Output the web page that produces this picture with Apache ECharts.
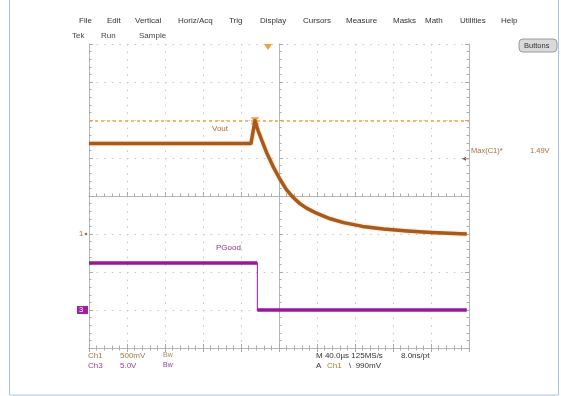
<!DOCTYPE html>
<html><head><meta charset="utf-8">
<script src="https://cdn.jsdelivr.net/npm/echarts@6/dist/echarts.min.js"></script>
<style>html,body{margin:0;padding:0;background:#fff}#c{width:561px;height:396px}</style>
</head><body><div id="c"></div>
<script>
// Time in µs from left edge of screen (10 div x 40 µs)
const voutTime = [0, 170.5, 174.7, 178, 182, 187, 193.7, 201, 208, 215, 222, 229, 240, 254, 268, 288, 310, 335, 360, 397.6];
const voutVolts = [1.19, 1.19, 1.49, 1.36, 1.23, 1.07, 0.89, 0.72, 0.58, 0.48, 0.40, 0.34, 0.27, 0.20, 0.15, 0.10, 0.065, 0.04, 0.02, 0.0];
const pgoodTime = [0, 177.2, 177.2, 397.6];
const pgoodVolts = [6.2, 6.2, 0, 0];
const menuItems = ["File","Edit","Vertical","Horiz/Acq","Trig","Display","Cursors","Measure","Masks","Math","Utilities","Help"];
const menuX = [79,107,135,178,229,260,303,346,393,425,460,501];
const trigTime = 188.4;   // µs
const trigLevel = 0.99;   // V on Ch1
const ch1Scale = 0.5, ch1Offset = 3; // V/div, ground position (div)
const ch3Scale = 5, ch3Offset = 1;

const VOUT_C = '#a85a1c', PG_C = '#9a16a0', GRID_C = '#c4c4c4';
const FONT = 'Liberation Sans';

const voutData = voutTime.map((t,i)=>[t, voutVolts[i]]);
const pgData = pgoodTime.map((t,i)=>[t, pgoodVolts[i]]);
const pgThick = [];
for (let i=0;i<pgData.length;i++){
  if (i>0 && pgData[i][0]===pgData[i-1][0]) pgThick.push('-');
  pgThick.push(pgData[i]);
}
const vMax = Math.max(...voutVolts);

const tickCommon = {show:true, inside:true, length:4, lineStyle:{color:'#aaa'}};
const minorCommon = {show:true, splitNumber:5, length:2.5, lineStyle:{color:'#aaa'}};
function xAx(pos, extra){ return Object.assign({type:'value', min:0, max:400, interval:40, position:pos,
  axisLine:{show:true, lineStyle:{color:'#b8b8b8', width:1}}, axisTick:tickCommon, minorTick:minorCommon,
  axisLabel:{show:false}, splitLine:{show:false}}, extra||{}); }
function yAx(pos, extra){ return Object.assign({type:'value', min:0, max:8, interval:1, position:pos,
  axisLine:{show:true, onZero:false, lineStyle:{color:'#b8b8b8', width:1}}, axisTick:tickCommon, minorTick:minorCommon,
  axisLabel:{show:false}, splitLine:{show:false}}, extra||{}); }

const chart = echarts.init(document.getElementById('c'), null, {renderer:'canvas'});
const option = {
  animation:false,
  backgroundColor:'#ffffff',
  grid:{left:89, top:44, width:380, height:304, containLabel:false},
  xAxis:[
    xAx('bottom', {splitLine:{show:true, lineStyle:{color:GRID_C, type:[1.5,6.1], width:1}}}),
    xAx('top'),
    xAx('bottom', {offset:-152})
  ],
  yAxis:[
    yAx('left', {splitLine:{show:true, lineStyle:{color:GRID_C, type:[1.5,6.1], width:1}}}),
    yAx('right'),
    yAx('left', {offset:-190}),
    {type:'value', min:-ch1Offset*ch1Scale, max:(8-ch1Offset)*ch1Scale, show:false},
    {type:'value', min:-ch3Offset*ch3Scale, max:(8-ch3Offset)*ch3Scale, show:false}
  ],
  series:[
    {type:'line', name:'PGood edge', xAxisIndex:0, yAxisIndex:4, data:pgData, symbol:'none',
     lineStyle:{color:PG_C, width:1}, z:3},
    {type:'line', name:'PGood', xAxisIndex:0, yAxisIndex:4, data:pgThick, symbol:'none',
     lineStyle:{color:PG_C, width:3.5}, z:4},
    {type:'line', name:'Vout', xAxisIndex:0, yAxisIndex:3, data:voutData, symbol:'none',
     smooth:false,
     lineStyle:{color:VOUT_C, width:3.5, join:'round', cap:'butt', shadowColor:'rgba(240,150,60,0.6)', shadowBlur:2}, z:5,
     markLine:{silent:true, symbol:'none', label:{show:false},
       lineStyle:{color:'#f0a24a', type:[3,3], width:1.5},
       data:[{yAxis:vMax}]},
     markPoint:{symbol:'path://M0,0 L10,0 L6,5 L10,10 L0,10 L4,5 Z', symbolSize:[9,7],
       itemStyle:{color:'#f0a040'}, label:{show:false}, data:[{type:'max'}]}
    }
  ]
};
chart.setOption(option);

const tx = chart.convertToPixel({xAxisIndex:0}, trigTime);
const ty = chart.convertToPixel({yAxisIndex:3}, trigLevel);
const g1y = chart.convertToPixel({yAxisIndex:3}, 0);
const g3y = chart.convertToPixel({yAxisIndex:4}, 0);

const txt = (t,x,y,fill,size)=>({type:'text', left:x, top:y, silent:true,
  style:{text:t, fill:fill||'#333', font:(size||8)+'px "'+FONT+'"'}});
const graphic = [];
graphic.push({type:'rect', shape:{x:9.5,y:-1,width:549,height:396}, style:{fill:'none', stroke:'#a9c6e6', lineWidth:1}, silent:true});
menuItems.forEach((m,i)=>graphic.push(txt(m, menuX[i], 17, '#333', 8)));
graphic.push(txt('Tek',72,32,'#444',8), txt('Run',101,32,'#444',8), txt('Sample',139,32,'#444',8));
graphic.push({type:'rect', shape:{x:519,y:39,width:38,height:13,r:4}, style:{fill:'#d9d9d9', stroke:'#9a9a9a', lineWidth:1}, silent:true});
graphic.push(txt('Buttons',524,41.5,'#333',7.5));
graphic.push({type:'polygon', shape:{points:[[tx-4,44],[tx+4,44],[tx,50]]}, style:{fill:'#f0a040'}, silent:true});
graphic.push({type:'polygon', shape:{points:[[462,ty],[466,ty-2],[466,ty+2]]}, style:{fill:'#8a5a2a'}, silent:true});
graphic.push({type:'line', shape:{x1:465,y1:ty,x2:469,y2:ty}, style:{stroke:'#8a5a2a', lineWidth:1}, silent:true});
graphic.push(txt('1',79,g1y-4,'#a07040',7.5));
graphic.push({type:'circle', shape:{cx:86,cy:g1y,r:1.3}, style:{fill:'#a07040'}, silent:true});
graphic.push({type:'rect', shape:{x:77,y:g3y-4,width:11,height:8}, style:{fill:'#a020a8'}, silent:true});
graphic.push(txt('3',79,g3y-4,'#ffffff',7.5));
graphic.push(txt('Vout',212,125,'#b06a2a',8));
graphic.push(txt('PGood',216,244,'#9a30a0',8));
graphic.push(txt('Max(C1)*',471,147,'#a07040',7.5));
graphic.push(txt('1.49V',530,147,'#a07040',7.5));
graphic.push(txt('Ch1',88,352,'#a07840',8), txt('500mV',120,352,'#a07840',8), txt('Bw',163,352,'#b08a50',7));
graphic.push(txt('Ch3',88,362,'#a040a0',8), txt('5.0V',120,362,'#a040a0',8), txt('Bw',163,362,'#a040a0',7));
graphic.push(txt('M 40.0µs 125MS/s',316,352,'#333',8), txt('8.0ns/pt',401,352,'#333',8));
graphic.push(txt('A',316,362,'#333',8), txt('Ch1',327,362,'#b07a30',8), txt('\\  990mV',349,362,'#333',8));
chart.setOption({graphic:graphic});
</script></body></html>
